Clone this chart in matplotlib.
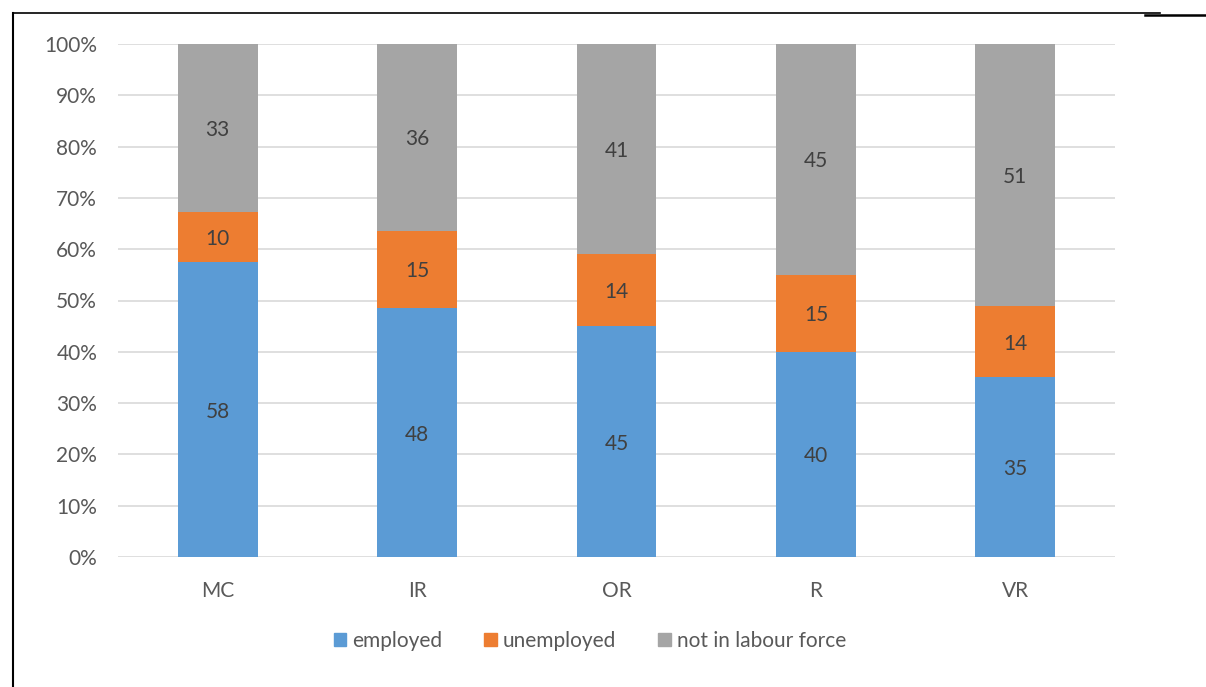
import numpy as np
import matplotlib.pyplot as plt
from matplotlib.lines import Line2D

plt.rcParams['font.family'] = ['Lato', 'DejaVu Sans']

categories = ["MC", "IR", "OR", "R", "VR"]
employed = [58, 48, 45, 40, 35]
unemployed = [10, 15, 14, 15, 14]
not_in_lf = [33, 36, 41, 45, 51]
series_names = ["employed", "unemployed", "not in labour force"]
colors = ["#5B9BD5", "#ED7D31", "#A5A5A5"]

raw = np.array([employed, unemployed, not_in_lf], dtype=float)
share = raw / raw.sum(axis=0) * 100  # 100% stacked

fig = plt.figure(figsize=(12.06, 6.87), dpi=100)
ax = fig.add_axes([118/1206, 1-557/687, (1115-118)/1206, (557-44)/687])

x = np.arange(len(categories))
bottom = np.zeros(len(categories))
for i in range(3):
    ax.bar(x, share[i], 0.4, bottom=bottom, color=colors[i], label=series_names[i], zorder=2)
    for j in range(len(categories)):
        ax.text(x[j], bottom[j] + share[i][j]/2, "%d" % raw[i][j], ha="center", va="center_baseline",
                fontsize=15, color="#404040", zorder=3)
    bottom += share[i]

ax.set_xlim(-0.5, 4.5)
ax.set_ylim(0, 100)
ax.set_yticks(np.arange(0, 101, 10))
ax.set_yticklabels(["%d%%" % v for v in range(0, 101, 10)])
ax.set_xticks(x)
ax.set_xticklabels(categories)
ax.tick_params(length=0, labelsize=15, labelcolor="#595959")
ax.tick_params(axis="y", pad=15)
ax.tick_params(axis="x", pad=17)
ax.grid(axis="y", color="#D9D9D9", linewidth=1.2, zorder=0)
for s in ax.spines.values():
    s.set_visible(False)

handles = [plt.Rectangle((0, 0), 1, 1, color=c) for c in colors]
fig.legend(handles, series_names, loc="center", bbox_to_anchor=(590/1206, 1-641/687), ncol=3,
           frameon=False, fontsize=15, labelcolor="#595959", handlelength=0.6, handleheight=0.6,
           handletextpad=0.3, columnspacing=2.0)

# page border lines
fig.add_artist(Line2D([13/1206, 13/1206], [0, 1-13/687], color="black", linewidth=1.5))
fig.add_artist(Line2D([13/1206, 1160/1206], [1-13/687, 1-13/687], color="black", linewidth=1.2))
fig.add_artist(Line2D([1145/1206, 1206/1206], [1-14.5/687, 1-14.5/687], color="black", linewidth=1.8))

fig.savefig("out.png")
